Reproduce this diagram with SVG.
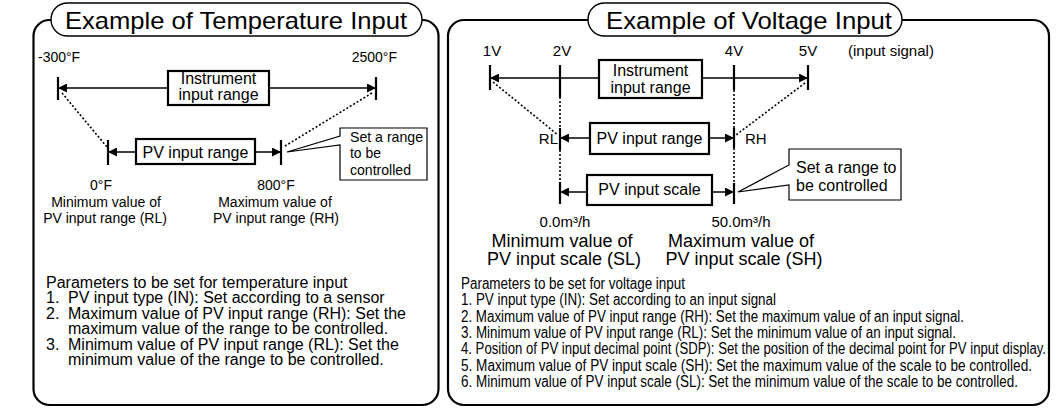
<svg xmlns="http://www.w3.org/2000/svg" width="1058" height="414" viewBox="0 0 1058 414">
<style>
text{font-family:"Liberation Sans",Arial,sans-serif;fill:#000}
.panel{fill:none;stroke:#000;stroke-width:2.2}
.cap{fill:#fff;stroke:#000;stroke-width:1.4}
.box{fill:#fff;stroke:#000;stroke-width:2.2}
.call{fill:#fff;stroke:#000;stroke-width:1.2}
.ln{stroke:#000;stroke-width:1.6;fill:none}
.tick{stroke:#000;stroke-width:2.2}
.dot{stroke:#000;stroke-width:1.6;stroke-dasharray:2 2;fill:none}
.title{font-size:24px}
.t14{font-size:14px}
.t15{font-size:15px}
.t16{font-size:16px}
.t18{font-size:18px}
.m{text-anchor:middle}
.e{text-anchor:end}
</style>
<defs>
<marker id="ah" viewBox="0 0 10 10" refX="10" refY="5" markerWidth="10" markerHeight="9" markerUnits="userSpaceOnUse" orient="auto-start-reverse">
<path d="M0,0 L10,5 L0,10 Z" fill="#000"/>
</marker>
</defs>

<g id="panel-temperature">
<rect class="panel" x="33.5" y="20" width="405" height="385" rx="16"/>
<rect class="cap" x="51" y="3" width="371" height="33" rx="16.5"/>
<text class="title" x="65" y="29" textLength="342" lengthAdjust="spacingAndGlyphs">Example of Temperature Input</text>
</g>

<g id="panel-voltage">
<rect class="panel" x="448" y="20" width="601" height="385" rx="16"/>
<rect class="cap" x="588" y="3" width="314" height="33" rx="16.5"/>
<text class="title" x="606" y="29" textLength="286" lengthAdjust="spacingAndGlyphs">Example of Voltage Input</text>
</g>

<g id="connectors">
<!-- left panel -->
<line class="ln" x1="58" y1="88" x2="376" y2="88" marker-start="url(#ah)" marker-end="url(#ah)"/>
<line class="tick" x1="58" y1="77" x2="58" y2="100"/>
<line class="tick" x1="376" y1="77" x2="376" y2="100"/>
<line class="ln" x1="108" y1="152" x2="281" y2="152" marker-start="url(#ah)" marker-end="url(#ah)"/>
<line class="tick" x1="108" y1="140" x2="108" y2="165"/>
<line class="tick" x1="281" y1="140" x2="281" y2="165"/>
<line class="dot" x1="62" y1="93" x2="107" y2="147"/>
<line class="dot" x1="372" y1="93" x2="285" y2="146"/>
<!-- right panel -->
<line class="ln" x1="490" y1="78" x2="808" y2="78" marker-start="url(#ah)" marker-end="url(#ah)"/>
<line class="tick" x1="490" y1="65" x2="490" y2="90"/>
<line class="tick" x1="808" y1="65" x2="808" y2="90"/>
<line class="ln" x1="560" y1="138" x2="734" y2="138" marker-start="url(#ah)" marker-end="url(#ah)"/>
<line class="ln" x1="560" y1="192" x2="734" y2="192" marker-start="url(#ah)" marker-end="url(#ah)"/>
<line class="tick" x1="560" y1="65" x2="560" y2="97"/>
<line class="dot" x1="560" y1="97" x2="560" y2="128"/>
<line class="tick" x1="560" y1="128" x2="560" y2="150"/>
<line class="dot" x1="560" y1="150" x2="560" y2="182"/>
<line class="tick" x1="560" y1="182" x2="560" y2="204"/>
<line class="tick" x1="734" y1="65" x2="734" y2="90"/>
<line class="dot" x1="734" y1="90" x2="734" y2="128"/>
<line class="tick" x1="734" y1="128" x2="734" y2="148"/>
<line class="dot" x1="734" y1="148" x2="734" y2="183"/>
<line class="tick" x1="734" y1="183" x2="734" y2="204"/>
<line class="dot" x1="493" y1="82" x2="558" y2="135"/>
<line class="dot" x1="805" y1="83" x2="736" y2="135"/>
</g>

<g id="temp-labels">
<text class="t14" x="38" y="62">-300°F</text>
<text class="t14 e" x="397" y="62">2500°F</text>
</g>
<g id="temp-instrument-range">
<rect class="box" x="168" y="71" width="101" height="34"/>
<text class="t16 m" x="218.5" y="84">Instrument</text>
<text class="t16 m" x="218.5" y="100">input range</text>
</g>
<g id="temp-pv-range">
<rect class="box" x="136" y="139" width="119" height="25"/>
<text class="t16 m" x="195.5" y="158">PV input range</text>
</g>
<g id="temp-callout">
<path class="call" d="M340,128 H427 V180 H340 V145 L287,152 L340,136 Z"/>
<text class="t15" x="350" y="142" textLength="73" lengthAdjust="spacingAndGlyphs">Set a range</text>
<text class="t15" x="350" y="158" textLength="31" lengthAdjust="spacingAndGlyphs">to be</text>
<text class="t15" x="350" y="175" textLength="61" lengthAdjust="spacingAndGlyphs">controlled</text>
</g>
<g id="temp-rl">
<text class="t14 m" x="101" y="190">0°F</text>
<text class="t14 m" x="106" y="207">Minimum value of</text>
<text class="t14 m" x="105" y="223">PV input range (RL)</text>
</g>
<g id="temp-rh">
<text class="t14 m" x="276" y="190">800°F</text>
<text class="t14 m" x="275" y="207">Maximum value of</text>
<text class="t14 m" x="276" y="223">PV input range (RH)</text>
</g>
<g id="temp-params">
<text class="t16" x="46" y="288">Parameters to be set for temperature input</text>
<text class="t16" x="46" y="303">1.</text><text class="t16" x="68" y="303">PV input type (IN): Set according to a sensor</text>
<text class="t16" x="46" y="319">2.</text><text class="t16" x="68" y="319">Maximum value of PV input range (RH): Set the</text>
<text class="t16" x="68" y="334">maximum value of the range to be controlled.</text>
<text class="t16" x="46" y="350">3.</text><text class="t16" x="68" y="350">Minimum value of PV input range (RL): Set the</text>
<text class="t16" x="68" y="365">minimum value of the range to be controlled.</text>
</g>

<g id="volt-labels">
<text class="t15 m" x="492" y="56">1V</text>
<text class="t15 m" x="562" y="56">2V</text>
<text class="t15 m" x="734" y="56">4V</text>
<text class="t15 m" x="808" y="56">5V</text>
<text class="t15" x="848" y="56">(input signal)</text>
</g>
<g id="volt-instrument-range">
<rect class="box" x="599" y="60" width="103" height="38"/>
<text class="t16 m" x="650.5" y="76">Instrument</text>
<text class="t16 m" x="650.5" y="93">input range</text>
</g>
<g id="volt-pv-range">
<rect class="box" x="590" y="123" width="119" height="31"/>
<text class="t16 m" x="649.5" y="144">PV input range</text>
<text class="t15 e" x="558" y="144">RL</text>
<text class="t15" x="745" y="144">RH</text>
</g>
<g id="volt-pv-scale">
<rect class="box" x="587" y="175" width="125" height="30"/>
<text class="t16 m" x="649.5" y="195">PV input scale</text>
</g>
<g id="volt-callout">
<path class="call" d="M789,149 H901 V200 H789 V185 L738,192 L789,165 Z"/>
<text class="t16" x="796" y="173">Set a range to</text>
<text class="t16" x="796" y="191">be controlled</text>
</g>
<g id="volt-sl">
<text class="t15 m" x="565" y="227">0.0m³/h</text>
<text class="t18 m" x="562" y="247">Minimum value of</text>
<text class="t18 m" x="564" y="265">PV input scale (SL)</text>
</g>
<g id="volt-sh">
<text class="t15 m" x="741" y="227">50.0m³/h</text>
<text class="t18 m" x="741" y="247">Maximum value of</text>
<text class="t18 m" x="744" y="265">PV input scale (SH)</text>
</g>
<g id="volt-params">
<text class="t16" x="461" y="289" textLength="224" lengthAdjust="spacingAndGlyphs">Parameters to be set for voltage input</text>
<text class="t16" x="461" y="305.3" textLength="315" lengthAdjust="spacingAndGlyphs">1. PV input type (IN): Set according to an input signal</text>
<text class="t16" x="461" y="321.6" textLength="503" lengthAdjust="spacingAndGlyphs">2. Maximum value of PV input range (RH): Set the maximum value of an input signal.</text>
<text class="t16" x="461" y="337.9" textLength="495" lengthAdjust="spacingAndGlyphs">3. Minimum value of PV input range (RL): Set the minimum value of an input signal.</text>
<text class="t16" x="461" y="354.2" textLength="585" lengthAdjust="spacingAndGlyphs">4. Position of PV input decimal point (SDP): Set the position of the decimal point for PV input display.</text>
<text class="t16" x="461" y="370.5" textLength="571" lengthAdjust="spacingAndGlyphs">5. Maximum value of PV input scale (SH): Set the maximum value of the scale to be controlled.</text>
<text class="t16" x="461" y="386.8" textLength="557" lengthAdjust="spacingAndGlyphs">6. Minimum value of PV input scale (SL): Set the minimum value of the scale to be controlled.</text>
</g>
</svg>
